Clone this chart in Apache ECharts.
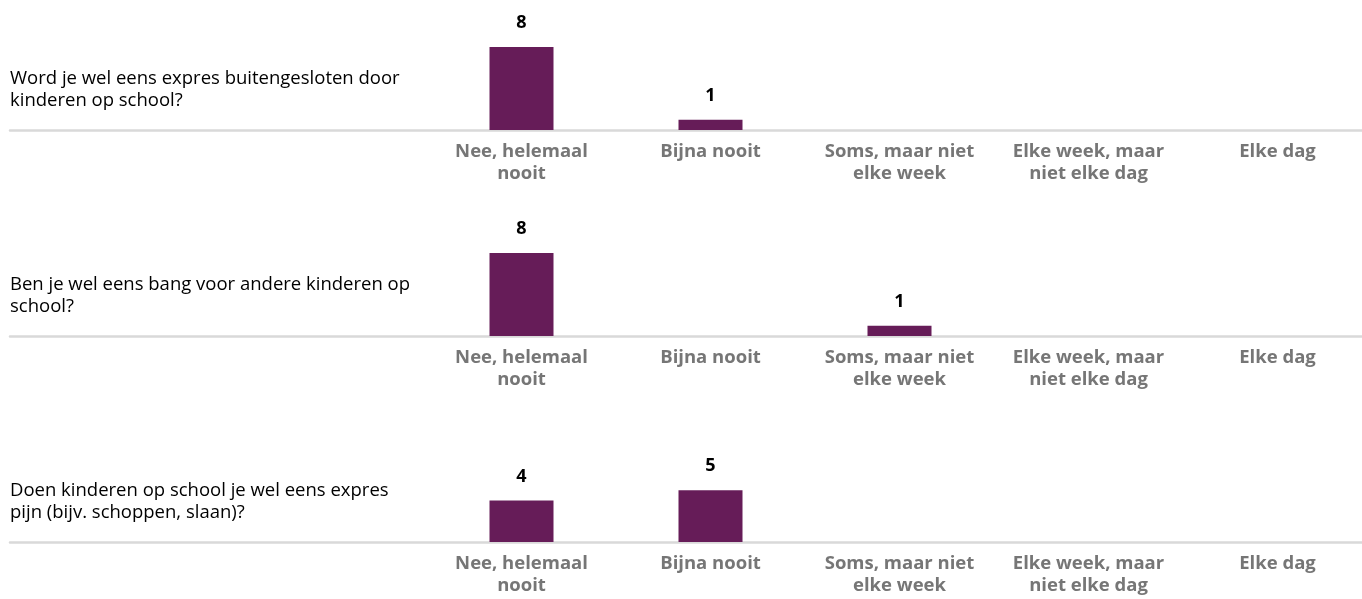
<!DOCTYPE html>
<html><head><meta charset="utf-8">
<script src="https://cdn.jsdelivr.net/npm/echarts@6/dist/echarts.min.js"></script>
<style>html,body{margin:0;padding:0;background:#fff}#c{width:1362px;height:599px}</style>
</head><body><div id="c"></div>
<script>
const categories = ['Nee, helemaal\nnooit', 'Bijna nooit', 'Soms, maar niet\nelke week', 'Elke week, maar\nniet elke dag', 'Elke dag'];
const questions = [
  'Word je wel eens expres buitengesloten door\nkinderen op school?',
  'Ben je wel eens bang voor andere kinderen op\nschool?',
  'Doen kinderen op school je wel eens expres\npijn (bijv. schoppen, slaan)?'
];
const valuesQ1 = [8, 1, null, null, null];
const valuesQ2 = [8, null, 1, null, null];
const valuesQ3 = [4, 5, null, null, null];
const allValues = [valuesQ1, valuesQ2, valuesQ3];

const FONT = '"Open Sans", Lato, sans-serif';
const panelBottoms = [130, 336, 542];
const gridH = 83;
const grids = [], xAxes = [], yAxes = [], series = [], titles = [];
panelBottoms.forEach((b, i) => {
  const top = b - gridH;
  grids.push({left: 427, width: 945, top: top, height: gridH, containLabel: false, outerBoundsMode: 'none'});
  grids.push({left: 10, right: 0, top: top, height: gridH, containLabel: false, outerBoundsMode: 'none'});
  xAxes.push({
    type: 'category', gridIndex: i * 2, data: categories,
    axisLine: {show: false}, axisTick: {show: false},
    axisLabel: {interval: 0, color: '#767676', fontWeight: 'bold', fontSize: 18.5, fontFamily: FONT, lineHeight: 22, margin: 11}
  });
  xAxes.push({
    type: 'value', gridIndex: i * 2 + 1, min: 0, max: 1,
    axisLine: {show: true, lineStyle: {color: '#d9d9d9', width: 2.5}},
    axisTick: {show: false}, axisLabel: {show: false}, splitLine: {show: false}
  });
  yAxes.push({type: 'value', gridIndex: i * 2, min: 0, max: 8, show: false});
  yAxes.push({type: 'value', gridIndex: i * 2 + 1, min: 0, max: 1, show: false});
  series.push({
    type: 'bar', xAxisIndex: i * 2, yAxisIndex: i * 2, data: allValues[i],
    barWidth: 64, z: 3,
    itemStyle: {color: '#661C58'},
    label: {show: true, position: 'top', distance: 15, color: '#000', fontWeight: 'bold', fontSize: 18, fontFamily: FONT}
  });
  titles.push({
    text: questions[i], left: 5, top: b - 67,
    textStyle: {fontSize: 18.5, fontWeight: 'normal', color: '#000', fontFamily: FONT, lineHeight: 22}
  });
});

const chart = echarts.init(document.getElementById('c'));
chart.setOption({
  animation: false,
  title: titles,
  grid: grids, xAxis: xAxes, yAxis: yAxes, series: series
});
</script></body></html>
